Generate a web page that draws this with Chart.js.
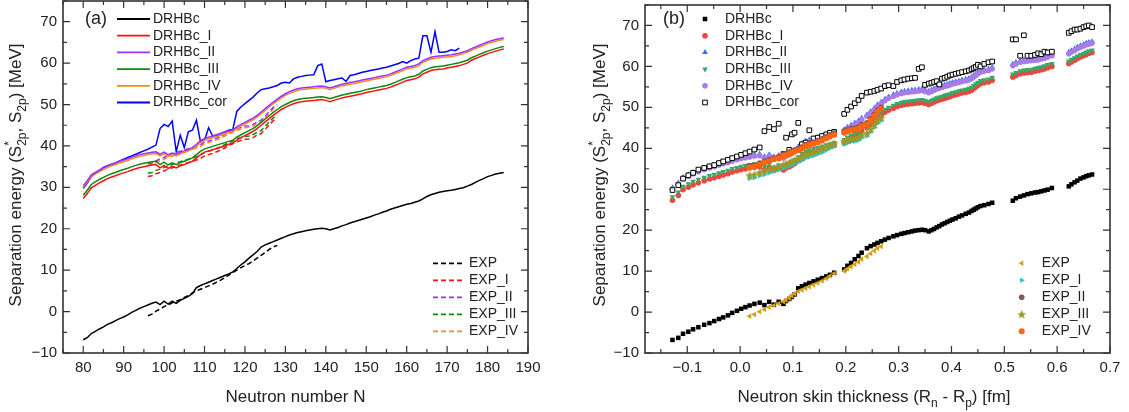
<!DOCTYPE html>
<html>
<head>
<meta charset="utf-8">
<script src="https://cdn.jsdelivr.net/npm/chart.js@4.4.1/dist/chart.umd.min.js"></script>
<style>
  html, body { margin: 0; padding: 0; background: #fff; }
  #wrap { position: relative; width: 1129px; height: 412px; }
  .panel { position: absolute; top: 0; height: 412px; }
  #panelA { left: 0; width: 560px; }
  #panelB { left: 560px; width: 569px; }
</style>
</head>
<body>
<div id="wrap">
  <div class="panel" id="panelA"><canvas id="chartA"></canvas></div>
  <div class="panel" id="panelB"><canvas id="chartB"></canvas></div>
</div>
<script>
Chart.defaults.font.family = '"Liberation Sans", Arial, sans-serif'
Chart.defaults.color = '#222'
Chart.defaults.animation = false

// nuclei of the chain, N = 80 ... 184
const neutronN = [
  80, 81, 82, 83, 84, 85, 86, 87, 88, 89,
  90, 91, 92, 93, 94, 95, 96, 97, 98, 99,
  100, 101, 102, 103, 104, 105, 106, 107, 108, 109,
  110, 111, 112, 113, 114, 115, 116, 117, 118, 119,
  120, 121, 122, 123, 124, 125, 126, 127, 128, 129,
  130, 131, 132, 133, 134, 135, 136, 137, 138, 139,
  140, 141, 142, 143, 144, 145, 146, 147, 148, 149,
  150, 151, 152, 153, 154, 155, 156, 157, 158, 159,
  160, 161, 162, 163, 164, 165, 166, 167, 168, 169,
  170, 171, 172, 173, 174, 175, 176, 177, 178, 179,
  180, 181, 182, 183, 184]

// neutron skin thickness Rn - Rp [fm]
const skin = [
  -0.128, -0.117, -0.108, -0.098, -0.089, -0.079, -0.068, -0.058, -0.049, -0.040,
  -0.032, -0.023, -0.015, -0.006, 0.002, 0.010, 0.018, 0.027, 0.037, 0.046,
  0.055, 0.064, 0.073, 0.082, 0.087, 0.093, 0.098, 0.103, 0.110, 0.117,
  0.124, 0.131, 0.139, 0.147, 0.155, 0.163, 0.170, 0.178, 0.197, 0.203,
  0.210, 0.217, 0.224, 0.230, 0.240, 0.247, 0.254, 0.260, 0.267, 0.274,
  0.281, 0.290, 0.297, 0.305, 0.311, 0.318, 0.325, 0.331, 0.338, 0.344,
  0.350, 0.357, 0.362, 0.367, 0.372, 0.377, 0.382, 0.387, 0.392, 0.397,
  0.402, 0.408, 0.414, 0.420, 0.427, 0.433, 0.438, 0.442, 0.446, 0.450,
  0.455, 0.462, 0.470, 0.477, 0.516, 0.522, 0.530, 0.537, 0.544, 0.551,
  0.558, 0.564, 0.570, 0.576, 0.582, 0.590, 0.622, 0.627, 0.633, 0.638,
  0.644, 0.650, 0.655, 0.660, 0.666]

// separation energies [MeV]
const drhbc = [
  -6.8, -6.3, -5.3, -4.8, -4.2, -3.7, -3.1, -2.7, -2.2, -1.7,
  -1.3, -0.8, -0.2, 0.3, 0.8, 1.2, 1.6, 2.0, 2.3, 1.7,
  2.5, 1.8, 2.5, 2.0, 2.7, 3.2, 3.7, 4.3, 5.8, 6.3,
  6.7, 7.1, 7.5, 7.9, 8.3, 8.7, 9.1, 9.6, 10.4, 11.3,
  12.0, 12.9, 13.7, 14.5, 15.6, 16.1, 16.5, 16.9, 17.3, 17.7,
  18.1, 18.5, 18.8, 19.1, 19.3, 19.5, 19.7, 19.9, 20.0, 20.1,
  20.0, 19.7, 20.0, 20.3, 20.7, 21.0, 21.4, 21.7, 22.0, 22.3,
  22.6, 22.9, 23.3, 23.6, 24.0, 24.3, 24.7, 25.0, 25.3, 25.6,
  25.9, 26.1, 26.4, 26.7, 27.2, 27.8, 28.2, 28.5, 28.8, 29.0,
  29.2, 29.3, 29.5, 29.7, 29.9, 30.3, 30.7, 31.2, 31.7, 32.1,
  32.6, 32.9, 33.2, 33.4, 33.6]

const drhbcI = [
  27.3, 28.5, 29.9, 30.5, 31.1, 31.6, 32.1, 32.5, 32.8, 33.2,
  33.5, 33.8, 34.2, 34.5, 34.8, 35.0, 35.2, 35.4, 35.5, 34.7,
  35.3, 34.6, 35.1, 34.7, 35.2, 35.5, 35.9, 36.3, 37.1, 37.9,
  38.5, 38.8, 39.1, 39.4, 39.7, 40.0, 40.4, 40.7, 41.4, 42.0,
  42.5, 43.0, 43.5, 44.2, 45.0, 45.8, 46.6, 47.4, 48.1, 48.8,
  49.3, 49.8, 50.2, 50.5, 50.7, 50.8, 50.9, 51.0, 51.1, 51.2,
  51.0, 50.7, 51.0, 51.3, 51.6, 51.8, 52.0, 52.2, 52.4, 52.6,
  52.9, 53.1, 53.3, 53.5, 53.7, 53.9, 54.2, 54.6, 55.0, 55.4,
  55.8, 56.0, 56.2, 56.6, 57.4, 57.8, 58.2, 58.4, 58.5, 58.6,
  58.8, 59.0, 59.2, 59.4, 59.7, 60.0, 60.7, 61.1, 61.5, 61.9,
  62.3, 62.6, 62.9, 63.2, 63.4]

const drhbcII = [
  30.4, 31.6, 33.0, 33.6, 34.2, 34.7, 35.2, 35.6, 35.9, 36.3,
  36.6, 36.9, 37.3, 37.6, 37.9, 38.1, 38.3, 38.5, 38.6, 38.0,
  38.5, 37.9, 38.3, 38.0, 38.5, 38.8, 39.2, 39.6, 40.4, 41.2,
  41.8, 42.1, 42.4, 42.7, 43.0, 43.3, 43.6, 43.9, 44.6, 45.2,
  45.7, 46.2, 46.7, 47.4, 48.2, 49.0, 49.8, 50.6, 51.3, 52.0,
  52.6, 53.1, 53.5, 53.8, 54.0, 54.1, 54.2, 54.3, 54.4, 54.5,
  54.3, 54.0, 54.3, 54.6, 54.9, 55.1, 55.3, 55.5, 55.7, 55.9,
  56.1, 56.3, 56.5, 56.7, 56.9, 57.1, 57.4, 57.8, 58.2, 58.6,
  59.0, 59.2, 59.4, 59.8, 60.6, 61.0, 61.4, 61.6, 61.7, 61.8,
  61.9, 62.0, 62.2, 62.4, 62.7, 63.0, 63.5, 63.9, 64.3, 64.7,
  65.1, 65.4, 65.7, 65.9, 66.1]

const drhbcIII = [
  28.1, 29.3, 30.7, 31.3, 31.9, 32.4, 32.9, 33.3, 33.6, 34.0,
  34.3, 34.6, 35.0, 35.3, 35.6, 35.8, 36.0, 36.2, 36.3, 35.5,
  36.1, 35.4, 35.9, 35.5, 36.0, 36.3, 36.7, 37.1, 37.9, 38.7,
  39.3, 39.6, 39.9, 40.2, 40.5, 40.8, 41.1, 41.4, 42.1, 42.7,
  43.2, 43.7, 44.2, 44.9, 45.7, 46.5, 47.3, 48.1, 48.8, 49.5,
  50.0, 50.5, 50.9, 51.2, 51.4, 51.5, 51.6, 51.7, 51.8, 51.9,
  51.7, 51.4, 51.7, 52.0, 52.3, 52.5, 52.7, 52.9, 53.1, 53.3,
  53.6, 53.8, 54.0, 54.2, 54.4, 54.6, 54.9, 55.3, 55.7, 56.1,
  56.5, 56.7, 56.9, 57.3, 58.1, 58.5, 58.9, 59.1, 59.2, 59.3,
  59.5, 59.7, 59.9, 60.1, 60.4, 60.7, 61.3, 61.7, 62.1, 62.5,
  62.9, 63.2, 63.5, 63.8, 64.0]

const drhbcIV = [
  30.0, 31.2, 32.6, 33.2, 33.8, 34.3, 34.8, 35.2, 35.5, 35.9,
  36.2, 36.5, 36.9, 37.2, 37.5, 37.7, 37.9, 38.1, 38.2, 37.6,
  38.1, 37.5, 37.9, 37.6, 38.1, 38.4, 38.8, 39.2, 40.0, 40.8,
  41.4, 41.7, 42.0, 42.3, 42.6, 42.9, 43.2, 43.5, 44.2, 44.8,
  45.3, 45.8, 46.3, 47.0, 47.8, 48.6, 49.4, 50.2, 50.9, 51.6,
  52.2, 52.7, 53.1, 53.4, 53.6, 53.7, 53.8, 53.9, 54.0, 54.1,
  53.9, 53.6, 53.9, 54.2, 54.5, 54.7, 54.9, 55.1, 55.3, 55.5,
  55.7, 55.9, 56.1, 56.3, 56.5, 56.7, 57.0, 57.4, 57.8, 58.2,
  58.6, 58.8, 59.0, 59.4, 60.2, 60.6, 61.0, 61.2, 61.3, 61.4,
  61.5, 61.6, 61.8, 62.0, 62.3, 62.6, 63.1, 63.5, 63.9, 64.3,
  64.7, 65.0, 65.3, 65.5, 65.7]

const drhbcCor = [
  29.8, 31.0, 32.6, 33.4, 34.0, 34.8, 35.2, 35.6, 35.9, 36.4,
  36.8, 37.2, 37.6, 38.0, 38.4, 38.8, 39.2, 39.7, 40.2, 44.2,
  45.2, 44.7, 46.0, 38.6, 42.6, 39.6, 43.4, 43.8, 46.2, 41.0,
  41.4, 44.4, 42.4, 42.6, 43.0, 43.4, 43.8, 44.0, 48.4, 49.4,
  50.2, 51.0, 51.8, 52.8, 53.6, 53.8, 54.0, 54.3, 54.6, 55.2,
  55.4, 55.2, 56.2, 56.6, 56.8, 57.0, 57.1, 57.2, 59.4, 59.8,
  55.5, 55.8, 56.0, 56.2, 56.4, 55.6, 57.0, 57.2, 57.5, 57.8,
  58.0, 58.2, 58.4, 58.6, 58.8, 59.0, 59.3, 59.6, 59.9, 60.4,
  60.0, 60.6, 61.0, 61.2, 66.6, 66.6, 62.6, 67.6, 62.6, 62.6,
  62.8, 63.2, 63.0, 63.6, 63.4, 63.6, 68.2, 68.6, 69.0, 69.0,
  69.2, 69.6, 69.8, 70.0, 69.6]
// the cor curve of panel (a) stops here
const corLineEndN = 173

// experimental values, N = 96 ... 128
const expN = [
  96, 97, 98, 99, 100, 101, 102, 103, 104, 105,
  106, 107, 108, 109, 110, 111, 112, 113, 114, 115,
  116, 117, 118, 119, 120, 121, 122, 123, 124, 125,
  126, 127, 128]
const exp = [
  -1.0, -0.6, 0.1, 0.6, 1.2, 1.6, 2.1, 2.5, 2.9, 3.4,
  3.9, 4.5, 5.0, 5.4, 5.8, 6.2, 6.6, 7.1, 7.6, 8.2,
  8.8, 9.4, 10.0, 10.6, 11.1, 11.6, 12.2, 12.9, 13.6, 14.3,
  15.0, 15.6, 16.0]
const expI = [
  32.6, 32.8, 33.3, 33.6, 34.0, 34.4, 34.7, 35.2, 35.4, 35.7,
  36.0, 36.3, 36.6, 37.0, 37.6, 37.9, 38.2, 38.6, 39.0, 39.5,
  40.1, 40.5, 41.0, 41.3, 41.6, 41.7, 42.0, 42.6, 43.0, 44.0,
  45.1, 46.1, 46.8]
const expII = [
  35.7, 35.9, 36.4, 36.9, 37.2, 37.7, 37.9, 38.5, 38.7, 39.0,
  39.3, 39.6, 39.9, 40.3, 40.9, 41.2, 41.5, 41.9, 42.3, 42.8,
  43.3, 43.7, 44.2, 44.5, 44.8, 44.9, 45.2, 45.8, 46.2, 47.2,
  48.3, 49.3, 50.0]
const expIII = [
  33.4, 33.6, 34.1, 34.4, 34.8, 35.2, 35.5, 36.0, 36.2, 36.5,
  36.8, 37.1, 37.4, 37.8, 38.4, 38.7, 39.0, 39.4, 39.8, 40.3,
  40.8, 41.2, 41.7, 42.0, 42.3, 42.4, 42.7, 43.3, 43.7, 44.7,
  45.8, 46.8, 47.5]
const expIV = [
  35.3, 35.5, 36.0, 36.5, 36.8, 37.3, 37.5, 38.1, 38.3, 38.6,
  38.9, 39.2, 39.5, 39.9, 40.5, 40.8, 41.1, 41.5, 41.9, 42.4,
  42.9, 43.3, 43.8, 44.1, 44.4, 44.5, 44.8, 45.4, 45.8, 46.8,
  47.9, 48.9, 49.6]

const yTicks = [-10, 0, 10, 20, 30, 40, 50, 60, 70]
const nTicks = [80, 90, 100, 110, 120, 130, 140, 150, 160, 170, 180, 190]
const skinTicks = [-0.1, 0.0, 0.1, 0.2, 0.3, 0.4, 0.5, 0.6, 0.7]

const FONT = '"Liberation Sans", Arial, sans-serif'
const minus = s => String(s).replace('-', '\u2212')

const toPoints = (xs, ys) => xs.map((x, i) => ({ x, y: ys[i] }))
const expSkin = expN.map(n => skin[neutronN.indexOf(n)])
const corLineN = neutronN.filter(n => n <= corLineEndN)

// filled star marker for EXP_III
const starMark = (() => {
  const c = document.createElement('canvas')
  c.width = 10; c.height = 10
  const g = c.getContext('2d')
  g.fillStyle = '#9b9a2a'
  g.beginPath()
  for (let i = 0; i < 10; i++) {
    const r = i % 2 ? 2 : 4.8
    const a = -Math.PI / 2 + i * Math.PI / 5
    g.lineTo(5 + r * Math.cos(a), 5.4 + r * Math.sin(a))
  }
  g.closePath()
  g.fill()
  return c
})()

// rich text: [text, 'sub'|'sup'|undefined, stacked]
const drawRich = (ctx, parts, cx, cy, rotate, size) => {
  const small = Math.round(size * 0.7)
  let total = 0
  const laid = parts.map(([t, kind, stacked]) => {
    ctx.font = `${kind ? small : size}px ${FONT}`
    const w = ctx.measureText(t).width
    const item = { t, kind, at: total }
    if (!stacked) total += w
    return item
  })
  ctx.save()
  ctx.translate(cx, cy)
  if (rotate) ctx.rotate(-Math.PI / 2)
  ctx.fillStyle = '#222'
  ctx.textAlign = 'left'
  ctx.textBaseline = 'alphabetic'
  laid.forEach(p => {
    ctx.font = `${p.kind ? small : size}px ${FONT}`
    const dy = p.kind === 'sub' ? size * 0.3 : p.kind === 'sup' ? -size * 0.42 : 0
    ctx.fillText(p.t, p.at - total / 2, size * 0.36 + dy)
  })
  ctx.restore()
}

const tickMarks = (ctx, scale, a, horizontal) => {
  const majors = scale.ticks.map(t => t.value)
  const step = majors[1] - majors[0]
  const minors = [majors[0] - step / 2, ...majors.map(v => v + step / 2)]
    .filter(v => v >= scale.min - 1e-9 && v <= scale.max + 1e-9)
  const mark = (v, len) => {
    const p = scale.getPixelForValue(v)
    ctx.beginPath()
    if (horizontal) {
      ctx.moveTo(p, a.bottom); ctx.lineTo(p, a.bottom - len)
      ctx.moveTo(p, a.top); ctx.lineTo(p, a.top + len)
    } else {
      ctx.moveTo(a.left, p); ctx.lineTo(a.left + len, p)
      ctx.moveTo(a.right, p); ctx.lineTo(a.right - len, p)
    }
    ctx.stroke()
  }
  majors.forEach(v => mark(v, 7))
  minors.forEach(v => mark(v, 4))
}

const decor = {
  id: 'decor',
  afterDraw(chart, args, opts) {
    const { ctx, chartArea: a, scales } = chart
    ctx.save()
    ctx.strokeStyle = '#333'
    ctx.lineWidth = 1.2
    tickMarks(ctx, scales.x, a, true)
    tickMarks(ctx, scales.y, a, false)
    ctx.lineWidth = 1.6
    ctx.strokeRect(a.left, a.top, a.right - a.left, a.bottom - a.top)

    drawRich(ctx, opts.yTitle.parts, opts.yTitle.x, opts.yTitle.y, true, 17)
    drawRich(ctx, opts.xTitle.parts, opts.xTitle.x, opts.xTitle.y, false, 17)

    ctx.fillStyle = '#222'
    ctx.textBaseline = 'middle'
    ctx.textAlign = 'left'
    ctx.font = `18px ${FONT}`
    ctx.fillText(opts.tag.text, opts.tag.x, opts.tag.y)

    opts.legends.forEach(lg => {
      lg.items.forEach((idx, row) => {
        const ds = chart.data.datasets[idx]
        const y = lg.y + row * lg.rowH
        ctx.save()
        if (lg.kind === 'line') {
          ctx.strokeStyle = ds.borderColor
          ctx.lineWidth = 1.8
          ctx.setLineDash(ds.borderDash || [])
          ctx.beginPath()
          ctx.moveTo(lg.x, y); ctx.lineTo(lg.x + lg.w, y)
          ctx.stroke()
        } else {
          ctx.fillStyle = ds.pointBackgroundColor
          ctx.strokeStyle = ds.pointBorderColor
          ctx.lineWidth = ds.pointBorderWidth
          Chart.helpers.drawPoint(ctx, {
            pointStyle: ds.pointStyle, rotation: ds.pointRotation || 0,
            radius: ds.pointRadius, borderWidth: ds.pointBorderWidth
          }, lg.x, y)
        }
        ctx.restore()
        ctx.fillStyle = '#222'
        ctx.font = `14px ${FONT}`
        ctx.textBaseline = 'middle'
        ctx.fillText(ds.label, lg.textX, y)
      })
    })
    ctx.restore()
  }
}

const yTitleParts = [['Separation energy (S'], ['*', 'sup', true], ['2p', 'sub'], [', S'], ['2p', 'sub'], [') [MeV]']]

const axisStyle = (ticks, min, max, fit, fmt) => ({
  type: 'linear', min, max,
  afterBuildTicks: s => { s.ticks = ticks.map(value => ({ value })) },
  afterFit: s => {
    fit(s)
    s.paddingTop = 0; s.paddingBottom = 0; s.paddingLeft = 0; s.paddingRight = 0
  },
  grid: { display: false, drawTicks: false },
  border: { display: false },
  ticks: { padding: 6, color: '#222', font: { size: 15 }, maxRotation: 0, autoSkip: false, callback: fmt }
})

const lineSet = (label, xs, ys, color, dash) => ({
  label, data: toPoints(xs, ys), borderColor: color, backgroundColor: color,
  borderWidth: 1.5, borderDash: dash || [], pointRadius: 0, fill: false, tension: 0
})

const renderChartA = () => {
  const dash = [5, 3]
  const data = {
    datasets: [
      lineSet('DRHBc', neutronN, drhbc, '#000000'),
      lineSet('DRHBc_I', neutronN, drhbcI, '#ff1010'),
      lineSet('DRHBc_II', neutronN, drhbcII, '#9933ff'),
      lineSet('DRHBc_III', neutronN, drhbcIII, '#0a8a0a'),
      lineSet('DRHBc_IV', neutronN, drhbcIV, '#ff8a1a'),
      lineSet('DRHBc_cor', corLineN, drhbcCor, '#0000ff'),
      lineSet('EXP', expN, exp, '#000000', dash),
      lineSet('EXP_I', expN, expI, '#ff1010', dash),
      lineSet('EXP_II', expN, expII, '#9933ff', dash),
      lineSet('EXP_III', expN, expIII, '#0a8a0a', dash),
      lineSet('EXP_IV', expN, expIV, '#ff8a1a', dash)
    ]
  }
  const options = {
    responsive: true, maintainAspectRatio: false, events: [],
    layout: { padding: { top: 1, right: 32, bottom: 0, left: 0 } },
    scales: {
      x: axisStyle(nTicks, 75, 190, s => { s.height = 59 }, v => v),
      y: axisStyle(yTicks, -10, 75, s => { s.width = 63 }, v => minus(v))
    },
    plugins: {
      legend: { display: false },
      tooltip: { enabled: false },
      decor: {
        tag: { text: '(a)', x: 85, y: 19 },
        yTitle: { parts: yTitleParts, x: 14.5, y: 175 },
        xTitle: { parts: [['Neutron number N']], x: 295.5, y: 396 },
        legends: [
          { kind: 'line', items: [0, 1, 2, 3, 4, 5], x: 117, w: 33, textX: 153, y: 19, rowH: 16.7 },
          { kind: 'line', items: [6, 7, 8, 9, 10], x: 433, w: 30, textX: 469, y: 263.3, rowH: 17 }
        ]
      }
    }
  }
  new Chart('chartA', { type: 'line', data, options, plugins: [decor] })
}

const markSet = (label, xs, ys, color, style, radius, extra) => ({
  label, data: toPoints(xs, ys), showLine: false,
  pointStyle: style, pointRadius: radius,
  pointBackgroundColor: color, pointBorderColor: color, pointBorderWidth: 0,
  ...extra
})

const renderChartB = () => {
  const datasets = [
    markSet('DRHBc', skin, drhbc, '#000000', 'rect', 3.2),
    markSet('DRHBc_I', skin, drhbcI, '#f0443c', 'circle', 2.8),
    markSet('DRHBc_II', skin, drhbcII, '#2f72e0', 'triangle', 3.3),
    markSet('DRHBc_III', skin, drhbcIII, '#36a96a', 'triangle', 3.3, { pointRotation: 180 }),
    markSet('DRHBc_IV', skin, drhbcIV, '#a97be6', 'circle', 2.8),
    markSet('DRHBc_cor', skin, drhbcCor, '#ffffff', 'rect', 3.3, { pointBorderColor: '#000000', pointBorderWidth: 1 }),
    markSet('EXP', expSkin, exp, '#d6a012', 'triangle', 3.2, { pointRotation: -90 }),
    markSet('EXP_I', expSkin, expI, '#1ec6d6', 'triangle', 3.2, { pointRotation: 90 }),
    markSet('EXP_II', expSkin, expII, '#855656', 'circle', 2.8),
    markSet('EXP_III', expSkin, expIII, '#9b9a2a', starMark, 4),
    markSet('EXP_IV', expSkin, expIV, '#ff6410', 'circle', 3)
  ]
  datasets.forEach((ds, i) => { ds.order = datasets.length - i })

  const options = {
    responsive: true, maintainAspectRatio: false, events: [],
    layout: { padding: { top: 1, right: 19, bottom: 0, left: 0 } },
    scales: {
      x: axisStyle(skinTicks, -0.18, 0.7, s => { s.height = 59 }, v => minus(v.toFixed(1))),
      y: axisStyle(yTicks, -10, 75, s => { s.width = 85 }, v => minus(v))
    },
    plugins: {
      legend: { display: false },
      tooltip: { enabled: false },
      decor: {
        tag: { text: '(b)', x: 103, y: 19 },
        yTitle: { parts: yTitleParts, x: 38.5, y: 175 },
        xTitle: { parts: [['Neutron skin thickness (R'], ['n', 'sub'], [' - R'], ['p', 'sub'], [') [fm]']], x: 314, y: 396 },
        legends: [
          { kind: 'point', items: [0, 1, 2, 3, 4, 5], x: 145, textX: 165, y: 19, rowH: 16.7 },
          { kind: 'point', items: [6, 7, 8, 9, 10], x: 461.7, textX: 481.7, y: 263.3, rowH: 17 }
        ]
      }
    }
  }
  new Chart('chartB', { type: 'scatter', data: { datasets }, options, plugins: [decor] })
}

renderChartA()
renderChartB()
</script>
</body>
</html>
